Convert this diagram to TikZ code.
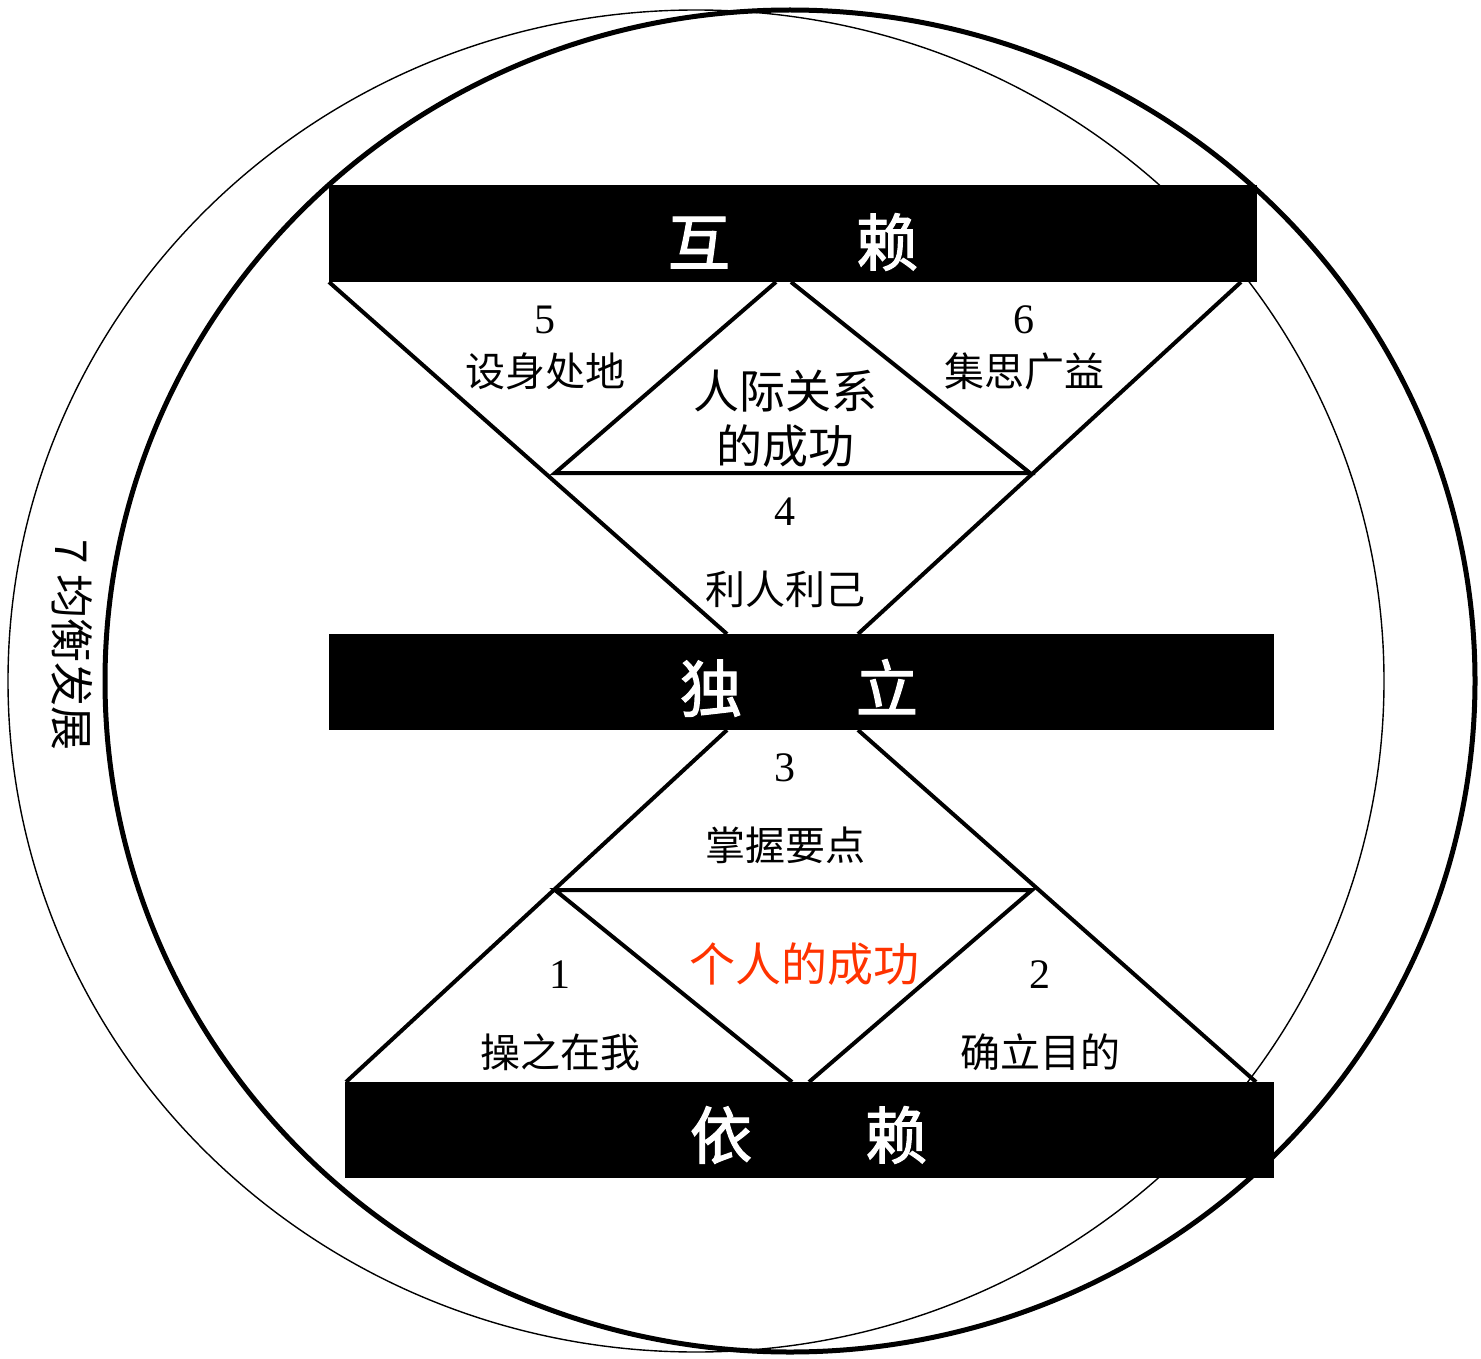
\documentclass[tikz,border=0pt]{standalone}
\usepackage{fontspec}
\setmainfont{Liberation Serif}
\newfontfamily\cjk{Noto Sans CJK SC}
\newfontfamily\cjkbar[FakeBold=2]{Noto Sans CJK SC}
\definecolor{accent}{RGB}{255,51,0}
\tikzset{
  seg/.style={line width=4pt},
  thickring/.style={line width=5pt},
  thinring/.style={line width=1.4pt},
  bar/.style={fill=black, draw=none, inner sep=0pt},
  bartext/.style={text=white, inner sep=0pt, font=\cjkbar\fontsize{62pt}{64pt}\selectfont},
  lbl/.style={inner sep=0pt, font=\cjk\fontsize{40pt}{44pt}\selectfont},
  sidelbl/.style={inner sep=0pt, font=\cjk\fontsize{44pt}{48pt}\selectfont},
  biglbl/.style={inner sep=0pt, font=\cjk\fontsize{46pt}{50pt}\selectfont},
  num/.style={inner sep=0pt, font=\fontsize{42pt}{44pt}\selectfont},
}
\begin{document}
\begin{tikzpicture}[x=1pt,y=-1pt]
\useasboundingbox (0,0) rectangle (1481,1359);
% rings
\draw[thinring] (696,681) ellipse [x radius=688, y radius=671];
\draw[thickring] (790,681) ellipse [x radius=685, y radius=671];
% vertices
\coordinate (tl) at (329,282);
\coordinate (tr) at (1241,282);
\coordinate (ta) at (776,282);
\coordinate (tb) at (791,282);
\coordinate (ul) at (555,473);
\coordinate (ur) at (1030,473);
\coordinate (ml) at (727,634);
\coordinate (mr) at (858,634);
\coordinate (nl) at (727,730);
\coordinate (nr) at (858,730);
\coordinate (ll) at (555,890);
\coordinate (lr) at (1032,890);
\coordinate (bl) at (346,1082);
\coordinate (br) at (1256,1082);
\coordinate (ba) at (792,1082);
\coordinate (bb) at (809,1082);
% upper hourglass
\draw[seg] (tl) -- (ml);
\draw[seg] (tr) -- (mr);
\draw[seg] (ta) -- (ul) -- (ur) -- (tb);
% lower hourglass
\draw[seg] (nl) -- (bl);
\draw[seg] (nr) -- (br);
\draw[seg] (ba) -- (ll) -- (lr) -- (bb);
% bars
\node[bar, minimum width=928pt, minimum height=97pt] (hutop) at (793,233.5) {};
\node[bar, minimum width=945pt, minimum height=96pt] (dumid) at (801.5,682) {};
\node[bar, minimum width=929pt, minimum height=96pt] (yibot) at (809.5,1130) {};
\node[bartext] (t1) at (793,242) {互\hspace{126pt}赖};
\node[bartext] (t2) at (799,688) {独\hspace{114pt}立};
\node[bartext] (t3) at (808.5,1135) {依\hspace{113pt}赖};
% labels
\node[num] (n5) at (545,320) {5};
\node[lbl] (l5) at (545,371) {设身处地};
\node[num] (n6) at (1024,320) {6};
\node[lbl] (l6) at (1024,371) {集思广益};
\node[biglbl] (rj1) at (785,391) {人际关系};
\node[biglbl] (rj2) at (785,446) {的成功};
\node[num] (n4) at (785,512) {4};
\node[lbl] (l4) at (785,589) {利人利己};
\node[num] (n3) at (785,768) {3};
\node[lbl] (l3) at (785,845) {掌握要点};
\node[biglbl, text=accent] (gr) at (804,964) {个人的成功};
\node[num] (n1) at (560,975) {1};
\node[lbl] (l1) at (560,1052) {操之在我};
\node[num] (n2) at (1040,975) {2};
\node[lbl] (l2) at (1040,1052) {确立目的};
\node[sidelbl, rotate=-90] (l7) at (72,645) {7 {\cjk 均衡发展}};
\end{tikzpicture}
\end{document}
